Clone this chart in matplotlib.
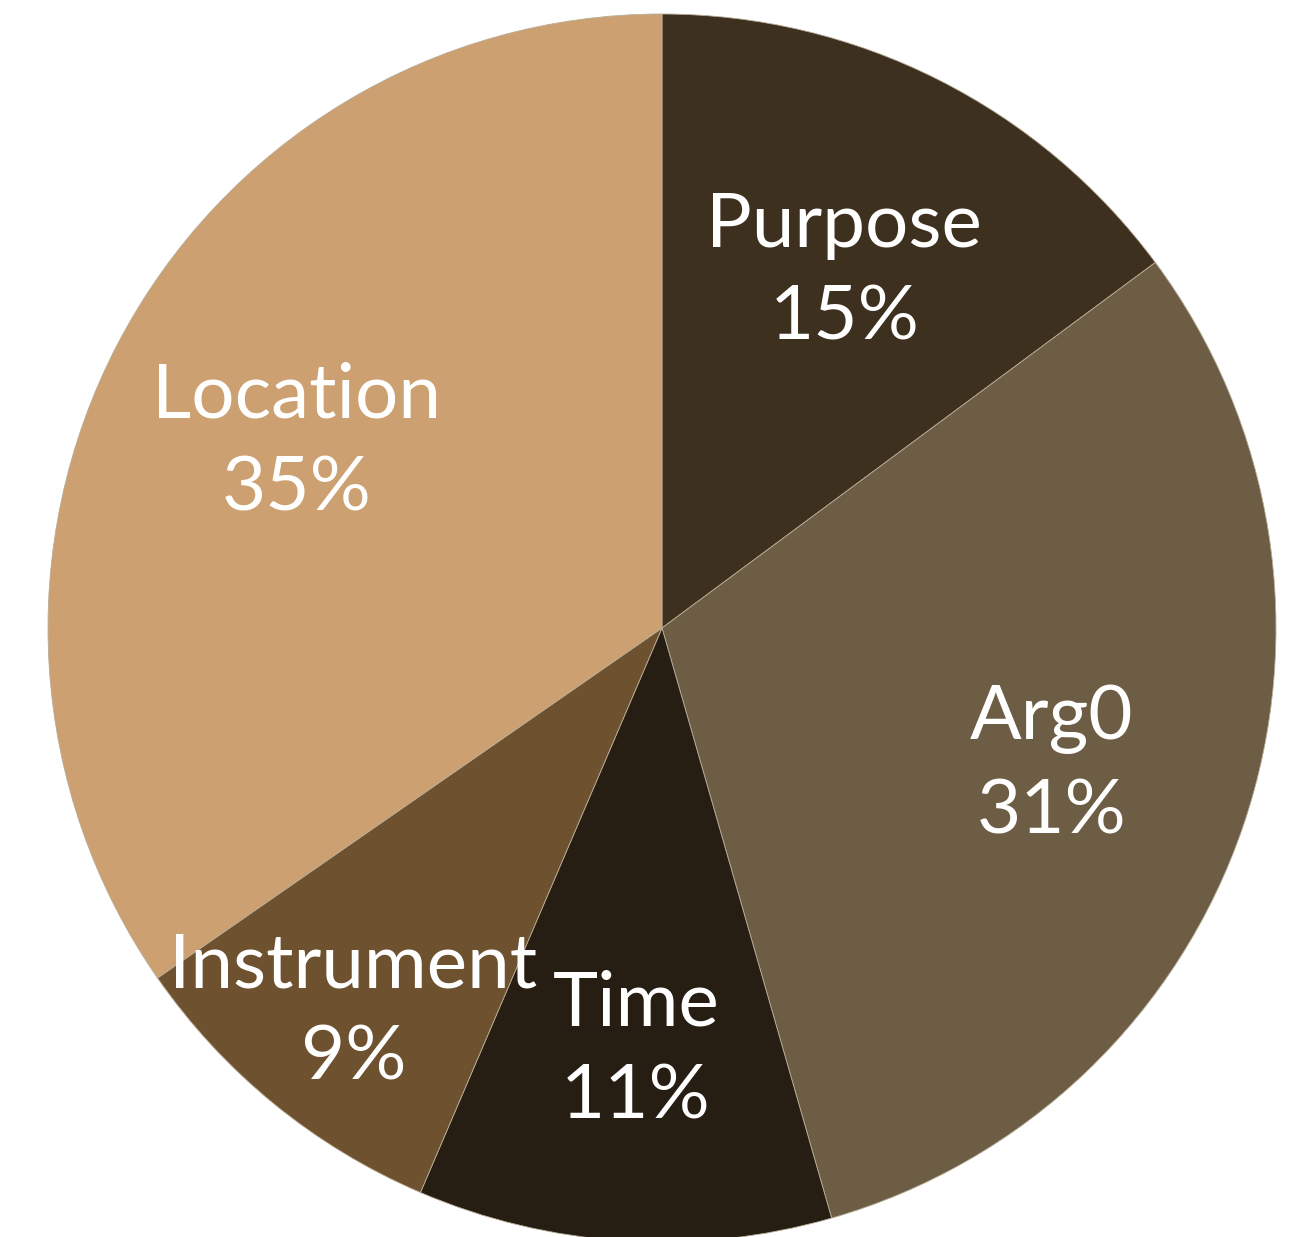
import numpy as np
import matplotlib
matplotlib.use("Agg")
import matplotlib.pyplot as plt

# share of each argument role, clockwise from 12 o'clock
roles = ["Purpose", "Arg0", "Time", "Instrument", "Location"]
shares = [15, 31, 11, 9, 35]
colors = ["#3d301f", "#6c5d44", "#271e13", "#6e5230", "#cca070"]
# how far out each label sits, as a fraction of the radius
label_pos = [0.66, 0.67, 0.68, 0.795, 0.672]

W, H = 1301, 1237
fig = plt.figure(figsize=(W / 100, H / 100), dpi=100)
ax = fig.add_axes([0, 0, 1, 1])

cx, cy, r = 662, H - 628, 614
wedges, _ = ax.pie(shares, colors=colors, startangle=90, counterclock=False,
                   radius=r, center=(cx, cy), frame=True,
                   wedgeprops=dict(edgecolor="#b9ad98", linewidth=0.6))
ax.set_xlim(0, W)
ax.set_ylim(0, H)
ax.set_aspect("equal")
ax.axis("off")

for w, name, val, d in zip(wedges, roles, shares, label_pos):
    mid = np.deg2rad((w.theta1 + w.theta2) / 2)
    x = cx + d * r * np.cos(mid)
    y = cy + d * r * np.sin(mid) - 6
    ax.text(x, y, f"{name}\n{val}%", ha="center", va="center",
            color="white", fontsize=55, family="Lato",
            linespacing=1.42)

fig.savefig("out.png", dpi=100)
